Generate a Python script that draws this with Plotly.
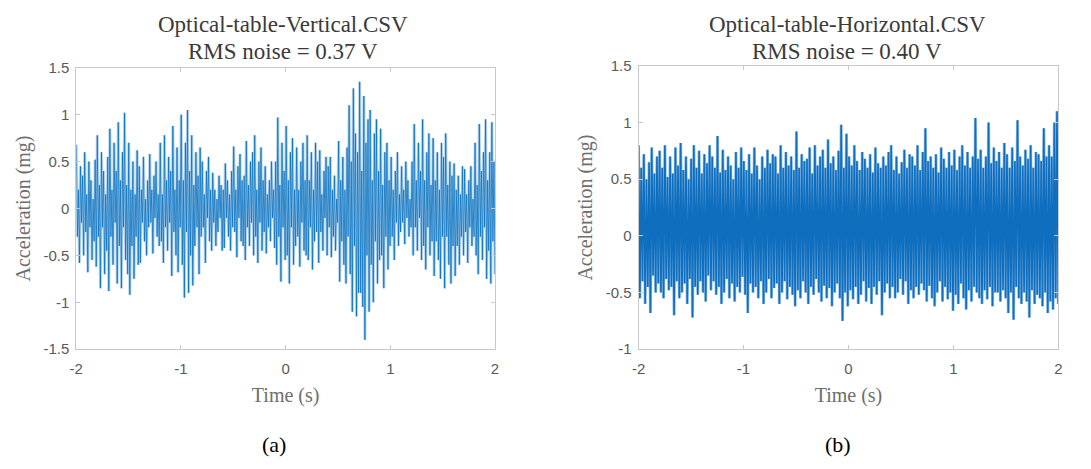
import numpy as np
import plotly.graph_objects as go

# ---------------- data ----------------
vertical_accel = [
    0.68, -0.3, 0.2, -0.58, 0.45, -0.15, 0.35, -0.5, 0.6, -0.25,
    0.15, -0.68, 0.5, -0.2, 0.3, -0.55, 0.1, -0.35, 0.52, -0.62,
    0.78, -0.3, 0.25, -0.85, 0.6, -0.2, 0.4, -0.7, 0.15, -0.45,
    0.55, -0.88, 0.85, -0.3, 0.2, -0.6, 0.7, -0.15, 0.4, -0.8,
    0.92, -0.4, 0.3, -0.85, 0.6, -0.2, 1.02, -0.55, 0.25, -0.7,
    0.7, -0.92, 0.2, -0.4, 0.5, -0.75, 0.15, -0.3, 0.62, -0.6,
    0.45, -0.58, 0.2, -0.15, 0.55, -0.35, 0.1, -0.5, 0.3, -0.2,
    0.58, -0.15, 0.2, -0.48, 0.35, -0.1, 0.5, -0.3, 0.15, -0.4,
    0.7, -0.35, 0.15, -0.58, 0.78, -0.2, 0.3, -0.45, 0.55, -0.15,
    0.4, -0.72, 0.88, -0.25, 0.2, -0.5, 0.65, -0.68, 0.3, -0.2,
    1.0, -0.6, 0.3, -0.95, 0.7, -0.25, 1.05, -0.9, 0.4, -0.5,
    0.78, -0.82, 0.25, -0.4, 0.6, -0.2, 0.35, -0.7, 0.65, -0.3,
    0.5, -0.2, 0.15, -0.58, 0.4, -0.1, 0.55, -0.35, 0.2, -0.45,
    0.38, -0.15, 0.2, -0.4, 0.1, -0.25, 0.35, -0.1, 0.25, -0.45,
    0.2, -0.42, 0.48, -0.1, 0.3, -0.3, 0.15, -0.45, 0.4, -0.2,
    0.66, -0.25, 0.2, -0.52, 0.45, -0.1, 0.58, -0.35, 0.3, -0.4,
    0.35, -0.55, 0.72, -0.2, 0.25, -0.4, 0.5, -0.15, 0.6, -0.5,
    0.78, -0.3, 0.2, -0.58, 0.5, -0.15, 0.65, -0.45, 0.3, -0.25,
    0.45, -0.48, 0.15, -0.2, 0.3, -0.35, 0.5, -0.1, 0.2, -0.42,
    0.5, -0.6, 0.97, -0.3, 0.25, -0.78, 0.7, -0.2, 0.4, -0.55,
    0.88, -0.5, 0.3, -0.8, 0.6, -0.2, 0.75, -0.6, 0.2, -0.4,
    0.65, -0.3, 0.2, -0.62, 0.5, -0.15, 0.7, -0.45, 0.3, -0.5,
    0.78, -0.55, 0.3, -0.2, 0.6, -0.65, 0.2, -0.35, 0.7, -0.25,
    0.5, -0.58, 0.62, -0.25, 0.15, -0.45, 0.4, -0.1, 0.55, -0.5,
    0.45, -0.2, 0.55, -0.52, 0.2, -0.3, 0.35, -0.45, 0.1, -0.15,
    0.72, -0.78, 0.3, -0.35, 0.55, -0.6, 0.2, -0.8, 0.65, -0.3,
    1.1, -0.7, 0.5, -1.1, 1.28, -0.4, 0.8, -1.15, 0.6, -0.9,
    1.35, -0.9, 0.4, -1.05, 1.2, -1.4, 0.7, -0.5, 0.95, -1.1,
    1.05, -0.6, 0.3, -1.0, 0.8, -0.35, 0.95, -0.8, 0.4, -0.55,
    0.85, -0.5, 0.25, -0.85, 0.6, -0.3, 0.7, -0.65, 0.3, -0.4,
    0.55, -0.3, 0.2, -0.55, 0.4, -0.15, 0.6, -0.4, 0.15, -0.25,
    0.45, -0.15, 0.2, -0.38, 0.5, -0.1, 0.3, -0.3, 0.1, -0.2,
    0.5, -0.5, 0.9, -0.2, 0.3, -0.45, 0.7, -0.1, 0.4, -0.55,
    0.95, -0.4, 0.3, -0.65, 0.6, -0.2, 0.8, -0.5, 0.25, -0.35,
    0.75, -0.72, 0.3, -0.35, 0.6, -0.55, 0.2, -0.75, 0.7, -0.3,
    0.55, -0.85, 0.8, -0.3, 0.25, -0.6, 0.5, -0.8, 0.35, -0.4,
    0.48, -0.72, 0.2, -0.4, 0.35, -0.6, 0.15, -0.3, 0.45, -0.5,
    0.42, -0.25, 0.15, -0.58, 0.3, -0.2, 0.45, -0.4, 0.1, -0.3,
    0.7, -0.5, 0.25, -0.7, 0.9, -0.3, 0.4, -0.55, 0.6, -0.2,
    0.95, -0.75, 0.3, -0.45, 0.6, -0.8, 0.92, -0.35, 0.5, -0.7,
]

horizontal_accel = [
    0.8, -0.55, 0.6, -0.4, 0.72, -0.6, 0.5, -0.45,
    0.65, -0.68, 0.78, -0.35, 0.55, -0.5, 0.7, -0.42,
    0.75, -0.5, 0.6, -0.55, 0.8, -0.38, 0.52, -0.48,
    0.7, -0.45, 0.55, -0.7, 0.78, -0.4, 0.62, -0.55,
    0.82, -0.5, 0.58, -0.42, 0.7, -0.6, 0.5, -0.38,
    0.68, -0.72, 0.8, -0.45, 0.6, -0.52, 0.75, -0.4,
    0.55, -0.5, 0.72, -0.58, 0.64, -0.35, 0.8, -0.48,
    0.7, -0.4, 0.6, -0.52, 0.88, -0.45, 0.56, -0.6,
    0.76, -0.5, 0.58, -0.38, 0.7, -0.55, 0.62, -0.42,
    0.5, -0.58, 0.74, -0.45, 0.6, -0.5, 0.78, -0.36,
    0.66, -0.52, 0.58, -0.68, 0.72, -0.42, 0.55, -0.5,
    0.78, -0.45, 0.62, -0.55, 0.5, -0.4, 0.7, -0.6,
    0.6, -0.5, 0.76, -0.38, 0.64, -0.55, 0.72, -0.46,
    0.7, -0.42, 0.55, -0.6, 0.8, -0.5, 0.6, -0.4,
    0.74, -0.56, 0.62, -0.45, 0.7, -0.52, 0.58, -0.62,
    0.92, -0.48, 0.6, -0.55, 0.72, -0.4, 0.66, -0.5,
    0.68, -0.6, 0.78, -0.45, 0.55, -0.52, 0.8, -0.38,
    0.62, -0.5, 0.7, -0.58, 0.76, -0.44, 0.6, -0.55,
    0.85, -0.46, 0.64, -0.62, 0.7, -0.5, 0.58, -0.42,
    0.75, -0.55, 0.98, -0.75, 0.6, -0.5, 0.9, -0.62,
    0.7, -0.48, 0.62, -0.56, 0.8, -0.45, 0.66, -0.6,
    0.58, -0.52, 0.74, -0.4, 0.68, -0.58, 0.6, -0.46,
    0.72, -0.6, 0.56, -0.45, 0.78, -0.52, 0.64, -0.4,
    0.6, -0.7, 0.7, -0.5, 0.62, -0.42, 0.74, -0.55,
    0.8, -0.45, 0.58, -0.55, 0.7, -0.5, 0.55, -0.38,
    0.65, -0.52, 0.76, -0.4, 0.6, -0.6, 0.72, -0.48,
    0.7, -0.55, 0.62, -0.45, 0.8, -0.52, 0.58, -0.42,
    0.74, -0.48, 0.95, -0.58, 0.66, -0.44, 0.7, -0.55,
    0.6, -0.62, 0.72, -0.5, 0.56, -0.4, 0.78, -0.58,
    0.68, -0.45, 0.6, -0.56, 0.74, -0.5, 0.62, -0.66,
    0.76, -0.52, 0.58, -0.6, 0.7, -0.42, 0.8, -0.55,
    0.62, -0.65, 0.74, -0.48, 0.6, -0.58, 0.7, -0.45,
    1.04, -0.5, 0.68, -0.55, 0.76, -0.6, 0.6, -0.48,
    0.7, -0.56, 1.0, -0.45, 0.64, -0.62, 0.78, -0.5,
    0.66, -0.5, 0.74, -0.58, 0.6, -0.48, 0.82, -0.55,
    0.72, -0.68, 0.6, -0.5, 0.78, -0.74, 0.66, -0.45,
    1.02, -0.55, 0.7, -0.6, 0.62, -0.5, 0.76, -0.58,
    0.68, -0.72, 0.8, -0.48, 0.6, -0.6, 0.74, -0.52,
    0.72, -0.55, 0.66, -0.62, 0.95, -0.5, 0.7, -0.68,
    0.8, -0.58, 0.7, -0.65, 1.0, -0.55, 1.1, -0.6,
]

t_start, t_end = -2.0, 2.0
time_vertical = np.linspace(t_start, t_end, len(vertical_accel))
time_horizontal = np.linspace(t_start, t_end, len(horizontal_accel))

titles = [("Optical-table-Vertical.CSV", "RMS noise = 0.37 V"),
          ("Optical-table-Horizontal.CSV", "RMS noise = 0.40 V")]
panel_labels = ["(a)", "(b)"]

x_ticks = [-2, -1, 0, 1, 2]
x_ticktext = ["-2", "-1", "0", "1", "2"]
y_ticks_a = [-1.5, -1, -0.5, 0, 0.5, 1, 1.5]
y_ticktext_a = ["-1.5", "-1", "-0.5", "0", "0.5", "1", "1.5"]
y_ticks_b = [-1, -0.5, 0, 0.5, 1, 1.5]
y_ticktext_b = ["-1", "-0.5", "0", "0.5", "1", "1.5"]

# ---------------- figure ----------------
W, H = 1091, 469

def px(x):
    return x / W

def py(y):
    return 1 - y / H

fig = go.Figure()

fig.add_trace(go.Scatter(x=time_vertical, y=vertical_accel, mode="lines",
                         line=dict(color="rgba(120,175,222,0.5)", width=3),
                         xaxis="x", yaxis="y", showlegend=False, hoverinfo="skip"))
fig.add_trace(go.Scatter(x=time_vertical, y=vertical_accel, mode="lines",
                         line=dict(color="rgba(0,110,189,0.75)", width=1),
                         xaxis="x", yaxis="y", showlegend=False))
fig.add_trace(go.Scatter(x=time_horizontal, y=horizontal_accel, mode="lines",
                         line=dict(color="rgba(90,160,220,0.7)", width=3),
                         xaxis="x2", yaxis="y2", showlegend=False, hoverinfo="skip"))
fig.add_trace(go.Scatter(x=time_horizontal, y=horizontal_accel, mode="lines",
                         line=dict(color="rgb(16,110,190)", width=1.6),
                         xaxis="x2", yaxis="y2", showlegend=False))

serif = "Liberation Serif, DejaVu Serif, serif"
sans = "Liberation Sans, Arial, sans-serif"
frame = "#c8c8c8"
ticklab = "#5a5a5a"
axtitle = "#6e6e6e"

def xax(domain, anchor):
    return dict(domain=domain, anchor=anchor, range=[-2, 2],
                tickvals=x_ticks, ticktext=x_ticktext,
                showline=True, mirror="ticks", linecolor=frame, linewidth=1,
                ticks="inside", ticklen=4, tickcolor=frame,
                ticklabelstandoff=6,
                showgrid=False, zeroline=False,
                tickfont=dict(family=sans, size=15, color=ticklab),
                title=dict(text="Time (s)", standoff=11,
                           font=dict(family=serif, size=20, color=axtitle)))

def yax(domain, anchor, rng, tv, tt):
    return dict(domain=domain, anchor=anchor, range=rng,
                tickvals=tv, ticktext=tt,
                showline=True, mirror="ticks", linecolor=frame, linewidth=1,
                ticks="inside", ticklen=4, tickcolor=frame,
                ticklabelstandoff=3,
                showgrid=False, zeroline=False,
                tickfont=dict(family=sans, size=15, color=ticklab),
                title=dict(text="Acceleration (mg)", standoff=7,
                           font=dict(family=serif, size=20, color=axtitle)))

fig.update_layout(
    width=W, height=H, margin=dict(l=0, r=0, t=0, b=0),
    paper_bgcolor="white", plot_bgcolor="white",
    xaxis=xax([px(70), px(493)], "y"),
    yaxis=yax([py(353), py(61)], "x", [-1.5, 1.5], y_ticks_a, y_ticktext_a),
    xaxis2=xax([px(638), px(1062)], "y2"),
    yaxis2=yax([py(353), py(59)], "x2", [-1, 1.5], y_ticks_b, y_ticktext_b),
)

centers = [279, 849]
for cx, (l1, l2) in zip(centers, titles):
    fig.add_annotation(x=px(cx), y=py(16), xref="paper", yref="paper",
                       text=l1, showarrow=False, xanchor="center", yanchor="middle",
                       font=dict(family=serif, size=23, color="#3a3a3a"))
    fig.add_annotation(x=px(cx), y=py(44), xref="paper", yref="paper",
                       text=l2, showarrow=False, xanchor="center", yanchor="middle",
                       font=dict(family=serif, size=23, color="#3a3a3a"))
for cx, lab in zip([270, 839], panel_labels):
    fig.add_annotation(x=px(cx), y=py(452), xref="paper", yref="paper",
                       text=lab, showarrow=False, xanchor="center", yanchor="middle",
                       font=dict(family=serif, size=22, color="black"))

fig.write_html("out.html")
